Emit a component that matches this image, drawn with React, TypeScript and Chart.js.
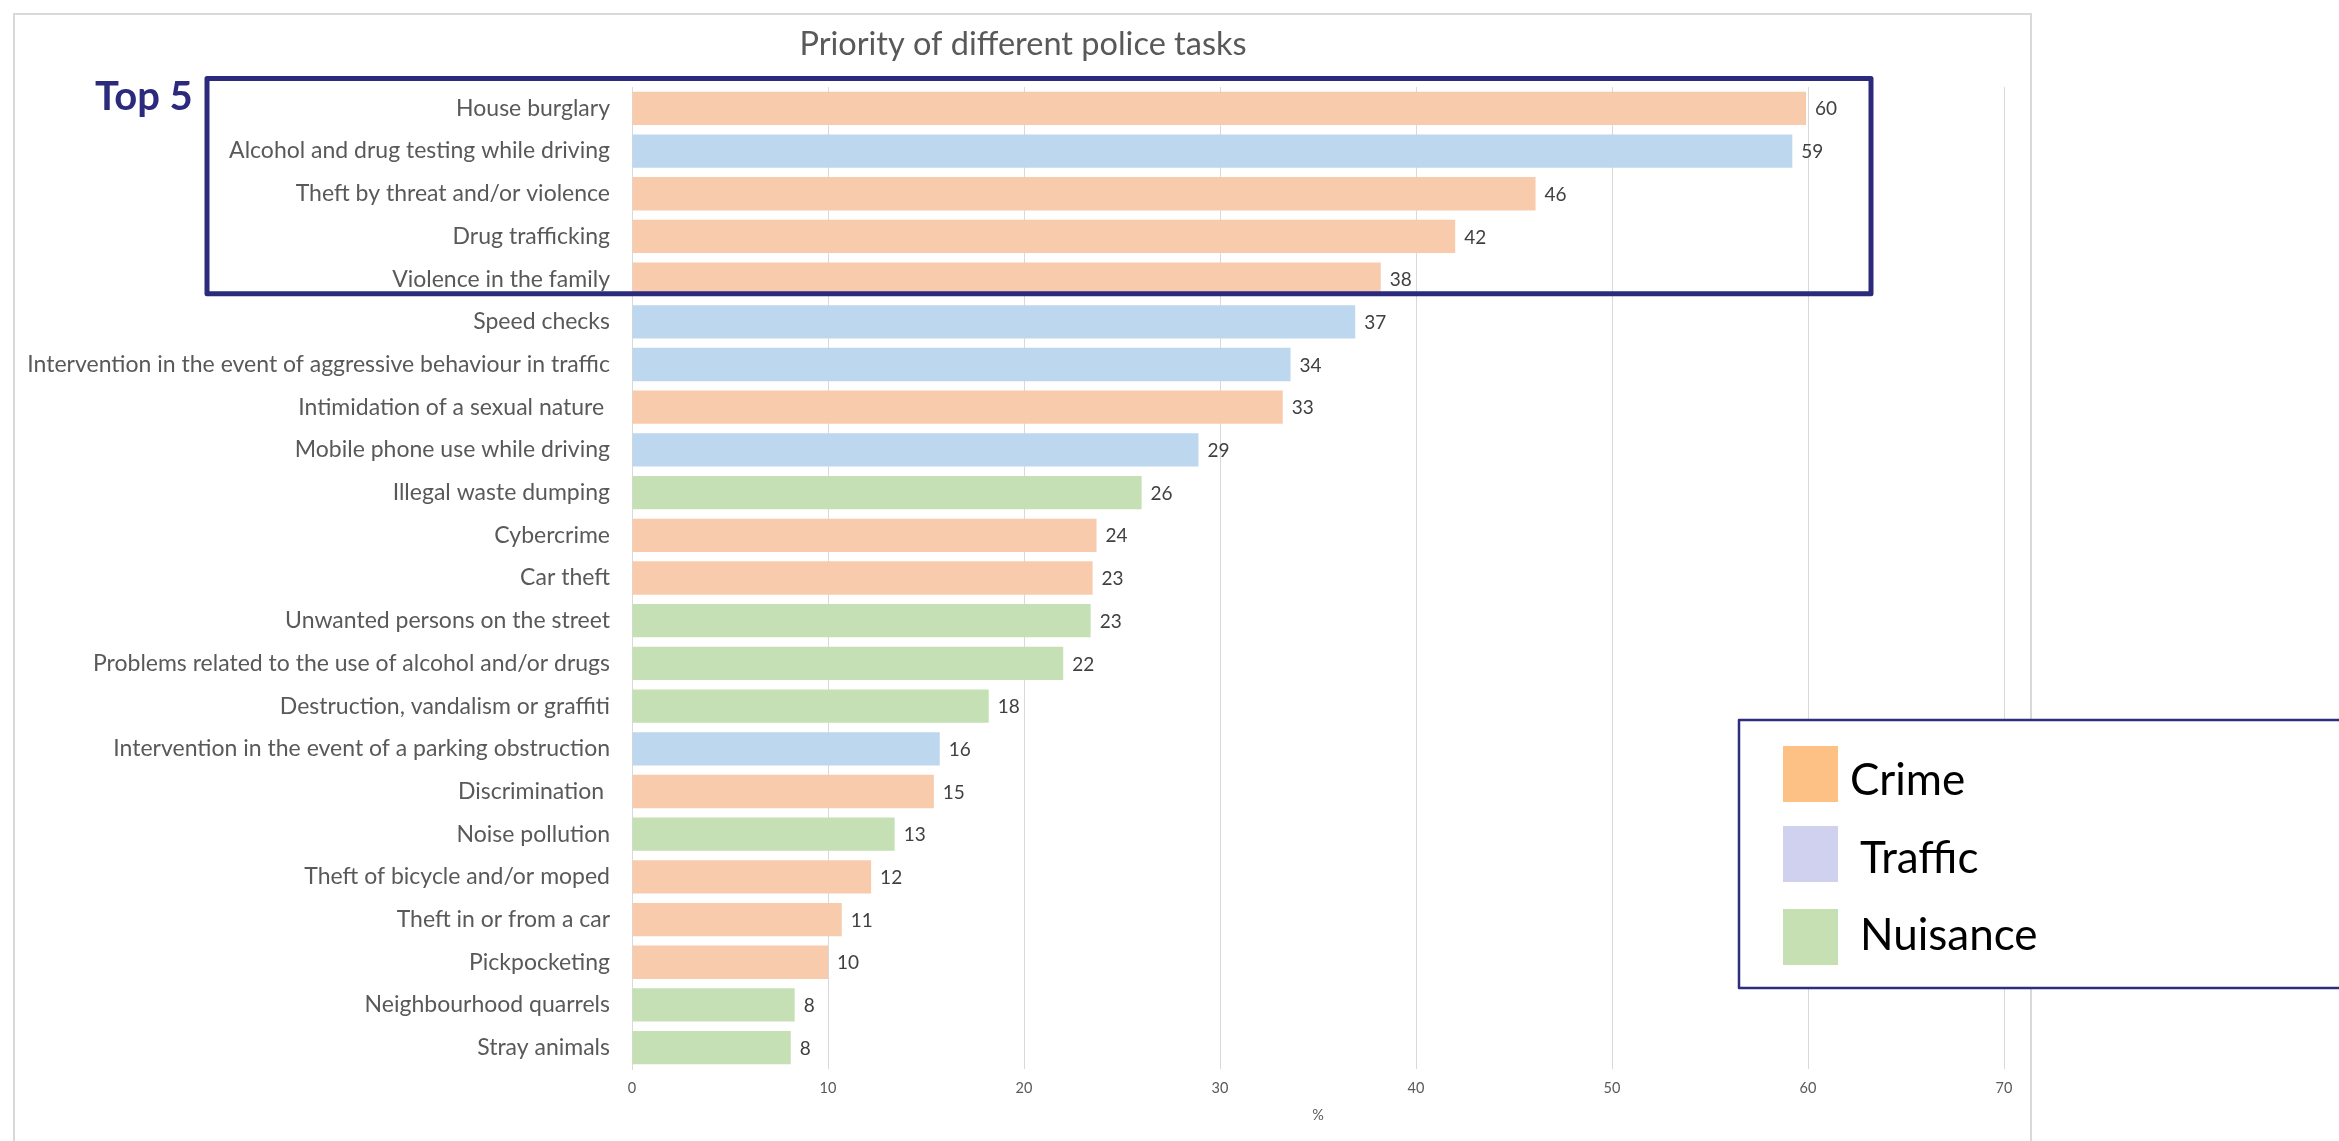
import React, { useEffect, useRef } from "react";
import { Chart, registerables } from "chart.js";

Chart.register(...registerables);

const TITLE = "Priority of different police tasks";
const X_TITLE = "%";
const TOP_LABEL = "Top 5";

const CATEGORIES = [
  "House burglary",
  "Alcohol and drug testing while driving",
  "Theft by threat and/or violence",
  "Drug trafficking",
  "Violence in the family",
  "Speed checks",
  "Intervention in the event of aggressive behaviour in traffic",
  "Intimidation of a sexual nature ",
  "Mobile phone use while driving",
  "Illegal waste dumping",
  "Cybercrime",
  "Car theft",
  "Unwanted persons on the street",
  "Problems related to the use of alcohol and/or drugs",
  "Destruction, vandalism or graffiti",
  "Intervention in the event of a parking obstruction",
  "Discrimination ",
  "Noise pollution",
  "Theft of bicycle and/or moped",
  "Theft in or from a car",
  "Pickpocketing",
  "Neighbourhood quarrels",
  "Stray animals",
];

const VALUES = [
  59.9, 59.2, 46.1, 42.0, 38.2, 36.9, 33.6, 33.2, 28.9, 26.0, 23.7, 23.5, 23.4,
  22.0, 18.2, 15.7, 15.4, 13.4, 12.2, 10.7, 10.0, 8.3, 8.1,
];

const VALUE_LABELS = [
  "60", "59", "46", "42", "38", "37", "34", "33", "29", "26", "24", "23", "23",
  "22", "18", "16", "15", "13", "12", "11", "10", "8", "8",
];

// group of each task: C = crime, T = traffic, N = nuisance
const GROUPS = [
  "C", "T", "C", "C", "C", "T", "T", "C", "T", "N", "C", "C", "N",
  "N", "N", "T", "C", "N", "C", "C", "C", "N", "N",
];

const BAR_COLORS: Record<string, string> = {
  C: "#F8CBAD",
  T: "#BDD7EE",
  N: "#C5E0B4",
};

const LEGEND_LABELS = ["Crime", "Traffic", "Nuisance"];
const LEGEND_COLORS = ["#FEC185", "#D0D0EF", "#C6E0B4"];

const X_MIN = 0;
const X_MAX = 70;
const X_STEP = 10;
const TOP_N = 5;

const FONT = "Lato, 'Open Sans', sans-serif";
const NAVY = "#2B2A7D";

export default function App() {
  const ref = useRef<HTMLCanvasElement | null>(null);

  useEffect(() => {
    const canvas = ref.current;
    if (!canvas) return;

    const decor = {
      id: "decor",
      beforeDraw(chart: any) {
        const ctx = chart.ctx;
        ctx.save();
        ctx.fillStyle = "#ffffff";
        ctx.fillRect(0, 0, chart.width, chart.height);
        ctx.strokeStyle = "#d9d9d9";
        ctx.lineWidth = 2;
        ctx.strokeRect(14, 14, 2017, 1160);
        ctx.restore();
      },
      afterDatasetsDraw(chart: any) {
        const ctx = chart.ctx;
        const meta = chart.getDatasetMeta(0);
        ctx.save();
        ctx.font = `19px ${FONT}`;
        ctx.fillStyle = "#404040";
        ctx.textAlign = "left";
        ctx.textBaseline = "middle";
        meta.data.forEach((el: any, i: number) => {
          ctx.fillText(VALUE_LABELS[i], el.x + 9, el.y + 1);
        });
        ctx.restore();
      },
      afterDraw(chart: any) {
        const ctx = chart.ctx;
        const y = chart.scales.y;
        ctx.save();
        // title
        ctx.font = `32.5px ${FONT}`;
        ctx.fillStyle = "#595959";
        ctx.textAlign = "center";
        ctx.textBaseline = "alphabetic";
        ctx.fillText(TITLE, 1023, 55);

        // top 5 box
        const band = (y.getPixelForValue(1) - y.getPixelForValue(0));
        const top = y.getPixelForValue(0) - band * 0.7;
        const bottom = y.getPixelForValue(TOP_N - 1) + band * 0.34;
        ctx.strokeStyle = NAVY;
        ctx.lineWidth = 5;
        ctx.lineJoin = "round";
        ctx.strokeRect(207, top, 1664, bottom - top);
        ctx.font = `bold 40px ${FONT}`;
        ctx.fillStyle = NAVY;
        ctx.textAlign = "left";
        ctx.fillText(TOP_LABEL, 95, 110);

        // legend
        ctx.fillStyle = "#ffffff";
        ctx.fillRect(1739, 720, 700, 268);
        ctx.strokeStyle = "#2E2E7E";
        ctx.lineWidth = 2.5;
        ctx.strokeRect(1739, 720, 700, 268);
        const sq = [746, 826, 909];
        const tx = [1850, 1860, 1860];
        const ty = [795, 873, 950];
        ctx.font = `44px ${FONT}`;
        LEGEND_LABELS.forEach((lab, i) => {
          ctx.fillStyle = LEGEND_COLORS[i];
          ctx.fillRect(1783, sq[i], 55, 56);
          ctx.fillStyle = "#000000";
          ctx.fillText(lab, tx[i], ty[i]);
        });
        ctx.restore();
      },
    };

    const chart = new Chart(canvas, {
      type: "bar",
      data: {
        labels: CATEGORIES,
        datasets: [
          {
            data: VALUES,
            backgroundColor: GROUPS.map((g) => BAR_COLORS[g]),
            borderWidth: 0,
            categoryPercentage: 1,
            barPercentage: 0.78,
          },
        ],
      },
      options: {
        indexAxis: "y",
        responsive: false,
        animation: false,
        events: [],
        layout: { padding: { left: 0, right: 335, top: 87, bottom: 0 } },
        plugins: {
          legend: { display: false },
          title: { display: false },
          tooltip: { enabled: false },
        },
        scales: {
          x: {
            min: X_MIN,
            max: X_MAX,
            ticks: {
              stepSize: X_STEP,
              padding: 11,
              color: "#595959",
              font: { family: FONT, size: 14.5 },
            },
            grid: { color: "#d9d9d9", lineWidth: 1, drawTicks: false },
            border: { display: false },
            title: {
              display: true,
              text: X_TITLE,
              color: "#595959",
              font: { family: FONT, size: 14.5 },
              padding: { top: 0, bottom: 17 },
            },
            afterFit: (s: any) => {
              s.height = 72;
            },
          },
          y: {
            ticks: {
              padding: 22,
              color: "#595959",
              font: { family: FONT, size: 23 },
              autoSkip: false,
            },
            grid: { display: false, drawTicks: false },
            border: { display: true, color: "#d9d9d9", width: 1 },
            afterFit: (s: any) => {
              s.width = 632;
            },
          },
        },
      },
      plugins: [decor],
    });

    return () => chart.destroy();
  }, []);

  return (
    <div style={{ position: "fixed", left: 0, top: 0, width: 2339, height: 1141, background: "#fff" }}>
      <canvas ref={ref} width={2339} height={1141} />
    </div>
  );
}
